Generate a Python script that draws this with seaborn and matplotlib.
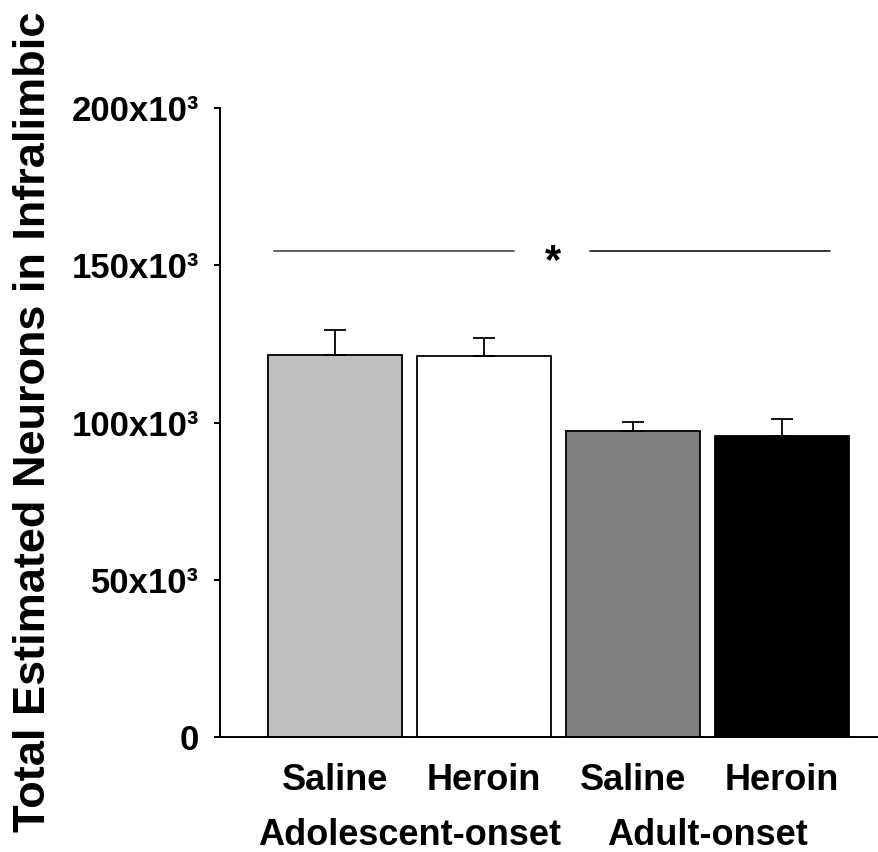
import numpy as np
import pandas as pd
import matplotlib
matplotlib.use("Agg")
import matplotlib.pyplot as plt
import seaborn as sns

# values (neurons)
groups = ["Adolescent-onset", "Adult-onset"]
treatments = ["Saline", "Heroin", "Saline", "Heroin"]
means = [121500, 121100, 97400, 95600]
sems = [7800, 5700, 2800, 5700]
bar_colors = ["#c0c0c0", "#ffffff", "#808080", "#000000"]
yticks = [0, 50000, 100000, 150000, 200000]
ytick_labels = ["0", "50x10³", "100x10³", "150x10³", "200x10³"]
sig_level = 154500

df = pd.DataFrame({"bar": ["Adolescent Saline", "Adolescent Heroin", "Adult Saline", "Adult Heroin"],
                   "neurons": means})

sns.set_style("ticks")
plt.rcParams["font.family"] = ["Liberation Sans", "DejaVu Sans"]
plt.rcParams["font.weight"] = "bold"
for k in ["text.color", "axes.labelcolor", "xtick.color", "ytick.color", "axes.edgecolor"]:
    plt.rcParams[k] = "black"

fig = plt.figure(figsize=(8.79, 8.52), dpi=100)
ax = fig.add_axes([0.2503, 0.135, 0.7497, 0.738])

sns.barplot(data=df, x="bar", y="neurons", hue="bar", palette=bar_colors,
            width=0.9, edgecolor="black", linewidth=1.3, legend=False, ax=ax)

xpos = np.arange(len(means))
ax.errorbar(xpos, means, yerr=[np.zeros(len(sems)), sems], fmt="none",
            ecolor="black", elinewidth=1.3, capsize=8, capthick=1.3)

# significance lines with asterisk
ax.plot([-0.41, 1.2], [sig_level, sig_level], color="#555555", lw=1.3)
ax.plot([1.71, 3.32], [sig_level, sig_level], color="black", lw=1.1)
ax.text(1.46, sig_level - 3500, "*", ha="center", va="center", fontsize=30, fontweight="bold")

ax.set_xlim(-0.772, 3.65)
ax.set_ylim(0, 200000)
ax.set_yticks(yticks)
ax.set_yticklabels(ytick_labels, fontsize=25, fontweight="bold")
ax.tick_params(axis="y", length=4, width=1.5, pad=11)
ax.set_xticks([])
ax.set_xlabel("")
ax.set_ylabel("")
fig.text(0.038, 0.505, "Total Estimated Neurons in Infralimbic", rotation=90,
         ha="center", va="center", fontsize=32.5, fontweight="bold")

for s in ["top", "right"]:
    ax.spines[s].set_visible(False)
ax.spines["left"].set_linewidth(1.4)
ax.spines["bottom"].set_linewidth(1.4)

trans = ax.get_xaxis_transform()
# y positions in axes fraction: category row ~780px, group row ~835px
for x, t in zip(xpos, treatments):
    ax.text(x, -0.069, t, transform=trans, ha="center", va="center", fontsize=26, fontweight="bold")
for x, g in zip([0.5, 2.5], groups):
    ax.text(x, -0.157, g, transform=trans, ha="center", va="center", fontsize=26, fontweight="bold")

fig.savefig("out.png", dpi=100)
